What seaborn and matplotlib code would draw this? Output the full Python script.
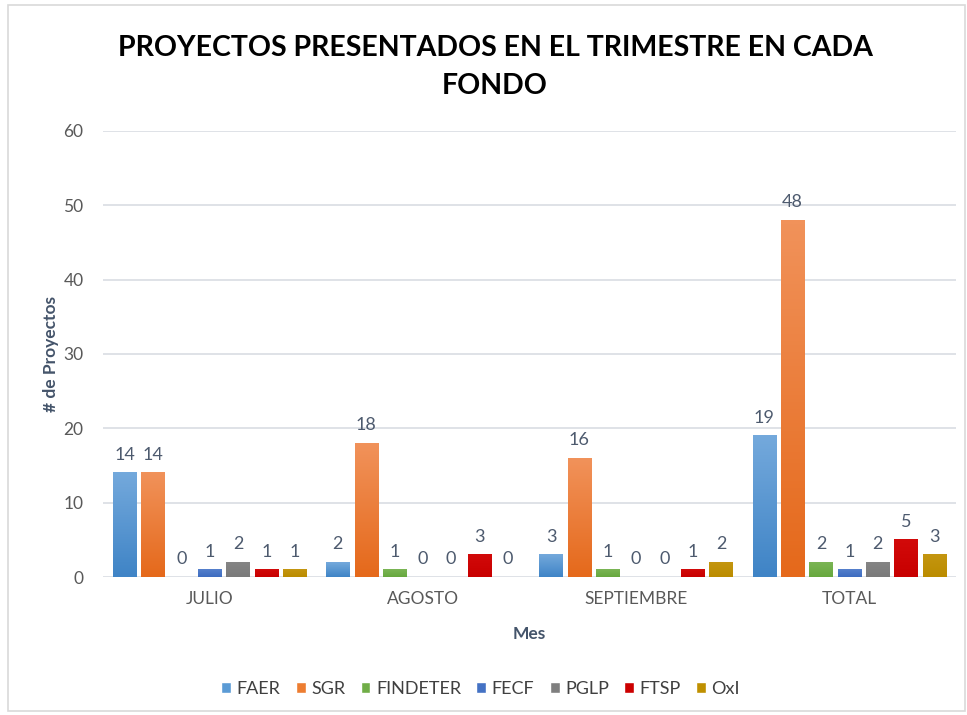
import numpy as np
import pandas as pd
import matplotlib
matplotlib.use("Agg")
import matplotlib.pyplot as plt
import seaborn as sns
from matplotlib.colors import LinearSegmentedColormap
from matplotlib.patches import Patch, Rectangle

meses = ["JULIO", "AGOSTO", "SEPTIEMBRE", "TOTAL"]
fondos = ["FAER", "SGR", "FINDETER", "FECF", "PGLP", "FTSP", "OxI"]
faer = [14, 2, 3, 19]
sgr = [14, 18, 16, 48]
findeter = [0, 1, 1, 2]
fecf = [1, 0, 0, 1]
pglp = [2, 0, 0, 2]
ftsp = [1, 3, 1, 5]
oxi = [1, 0, 2, 3]
colores = ["#5b9bd5", "#ed7d31", "#70ad47", "#4472c4", "#7f7f7f", "#cc0000", "#bf9000"]
# gradient ends (bottom, top) for each fund
fondo_bajo = ["#3f84c6", "#e5691b", "#67a83e", "#3d6cc0", "#7a7a7a", "#c80000", "#bb8c00"]
fondo_alto = ["#74a9dc", "#f1925a", "#7bb555", "#5580cc", "#858585", "#d20a0a", "#c49610"]

series = [faer, sgr, findeter, fecf, pglp, ftsp, oxi]
df = pd.DataFrame([(m, f, v[i]) for f, v in zip(fondos, series) for i, m in enumerate(meses)],
                  columns=["Mes", "Fondo", "Proyectos"])

sns.set_style("white")
plt.rcParams["font.family"] = ["Lato", "DejaVu Sans"]

fig = plt.figure(figsize=(9.67, 7.15), dpi=100)
ax = fig.add_axes([0.1065, 0.193, 0.882, 0.624])

sns.barplot(data=df, x="Mes", y="Proyectos", hue="Fondo", order=meses, hue_order=fondos,
            palette=colores, width=0.93, gap=0.18, legend=False, ax=ax, zorder=3)

for cont, lo, hi in zip(ax.containers, fondo_bajo, fondo_alto):
    cmap = LinearSegmentedColormap.from_list("g", [lo, hi])
    for bar in cont:
        x, w, h = bar.get_x(), bar.get_width(), bar.get_height()
        bar.set_facecolor("none")
        bar.set_edgecolor("none")
        if h > 0:
            grad = np.linspace(0, 1, 100).reshape(-1, 1)
            ax.imshow(grad, cmap=cmap, origin="lower", aspect="auto",
                      extent=[x, x + w, 0, h], zorder=3)
    ax.bar_label(cont, fmt="%d", padding=7, fontsize=13, color="#4d5a6e", zorder=4)

ax.set_xlim(-0.5, 3.5)
ax.set_ylim(0, 60)
ax.set_yticks(range(0, 61, 10))
ax.yaxis.grid(True, color="#d9dde3", linewidth=1.2, zorder=0)
ax.set_axisbelow(True)
for s in ax.spines.values():
    s.set_visible(False)
ax.tick_params(axis="both", length=0, labelsize=12.5, labelcolor="#595959")
ax.tick_params(axis="y", pad=14)
ax.tick_params(axis="x", pad=10)
ax.set_ylabel("# de Proyectos", fontsize=12.5, fontweight="bold", color="#44546a", labelpad=3)
ax.set_xlabel("Mes", fontsize=12.5, fontweight="bold", color="#44546a", labelpad=14)

fig.text(0.512, 0.906, "PROYECTOS PRESENTADOS EN EL TRIMESTRE EN CADA\nFONDO",
         ha="center", va="center", fontsize=20.5, fontweight="bold", color="black",
         linespacing=1.55)

handles = [Patch(facecolor=c, label=f) for f, c in zip(fondos, colores)]
fig.legend(handles=handles, loc="center", bbox_to_anchor=(0.497, 0.036), ncol=7,
           frameon=False, fontsize=13, handlelength=0.55, handleheight=0.55,
           handletextpad=0.3, columnspacing=0.85, labelcolor="#404040")

fig.patches.append(Rectangle((0.008, 0.005), 0.99, 0.988, transform=fig.transFigure,
                             fill=False, edgecolor="#d9d9d9", linewidth=1.2))

fig.savefig("out.png", dpi=100)
